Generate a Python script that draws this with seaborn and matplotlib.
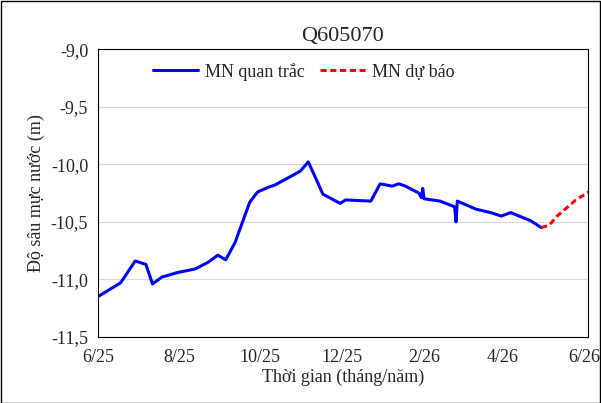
import pandas as pd
import numpy as np
import matplotlib
matplotlib.use("Agg")
import matplotlib.pyplot as plt
import matplotlib.ticker as mticker
import seaborn as sns

# observed water level (days since 2025-06-01, depth in m)
obs_days = [0, 17, 28, 36, 41, 48, 60, 73, 83, 90, 96, 103, 114, 120, 128, 133, 152, 158,
            162, 169, 182, 186, 205, 212, 221, 226, 231, 241, 243, 244, 245, 257, 268, 269,
            270, 284, 295, 303, 310, 325, 333]
obs_vals = [-11.15, -11.03, -10.84, -10.87, -11.04, -10.98, -10.94, -10.91, -10.85, -10.79,
            -10.83, -10.68, -10.33, -10.24, -10.20, -10.18, -10.06, -9.98, -10.08, -10.26,
            -10.34, -10.31, -10.32, -10.17, -10.19, -10.17, -10.19, -10.25, -10.29, -10.21,
            -10.30, -10.32, -10.37, -10.50, -10.32, -10.39, -10.42, -10.45, -10.42, -10.49,
            -10.55]
# forecast
fc_days = [333, 339, 345, 352, 359, 369]
fc_vals = [-10.55, -10.53, -10.45, -10.38, -10.31, -10.24]

start = pd.Timestamp("2025-06-01")
obs = pd.DataFrame({"t": start + pd.to_timedelta(obs_days, unit="D"), "v": obs_vals})
fc = pd.DataFrame({"t": start + pd.to_timedelta(fc_days, unit="D"), "v": fc_vals})

sns.set_style("white")
plt.rcParams["font.family"] = ["Liberation Serif", "DejaVu Serif"]

fig = plt.figure(figsize=(6.01, 4.03), dpi=100)
ax = fig.add_axes([0.163, 0.164, 0.815, 0.714])
sns.lineplot(data=obs, x="t", y="v", color="#0000ff", lw=2.2, ax=ax, label="MN quan trắc")
sns.lineplot(data=fc, x="t", y="v", color="#ff0000", lw=2.2, ls=(0, (2, 1.2)), ax=ax, label="MN dự báo")

ax.set_ylim(-11.5, -9.0)
ax.yaxis.set_major_locator(mticker.MultipleLocator(0.5))
ax.yaxis.set_major_formatter(mticker.FuncFormatter(lambda v, p: f"{v:.1f}".replace(".", ",")))
ax.set_xlim(start, pd.Timestamp("2026-06-01") + pd.Timedelta(days=3))
ticks = pd.date_range("2025-06-01", "2026-06-01", freq="2MS")
ax.set_xticks(ticks)
ax.set_xticklabels([f"{d.month}/{d.strftime('%y')}" for d in ticks])
ax.grid(axis="y", color="#d9d9d9", lw=0.8)
for s in ax.spines.values():
    s.set_color("black")
    s.set_linewidth(0.8)
ax.tick_params(labelsize=13, length=0)
ax.tick_params(axis="x", pad=9)
ax.tick_params(axis="y", pad=7)
ax.set_xlabel("Thời gian (tháng/năm)", fontsize=13, labelpad=2)
ax.set_ylabel("Độ sâu mực nước (m)", fontsize=13)
ax.set_title("Q605070", fontsize=16, pad=6)
ax.legend(loc="upper center", ncol=2, frameon=False, fontsize=13, handlelength=2.5,
          bbox_to_anchor=(0.42, 1.01), columnspacing=0.8, handletextpad=0.4)

fig.patches.append(plt.Rectangle((0.001, 0.001), 0.997, 0.997, transform=fig.transFigure,
                                 fill=False, edgecolor="black", lw=1))
fig.savefig("out.png", dpi=100)
